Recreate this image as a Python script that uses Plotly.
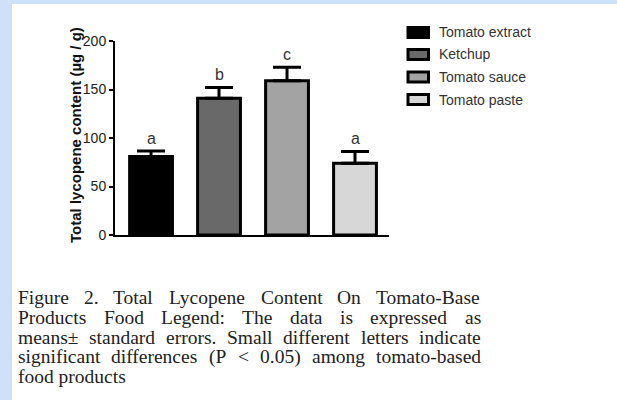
import plotly.graph_objects as go

# ---- data ----
categories = ["Tomato extract", "Ketchup", "Tomato sauce", "Tomato paste"]
means = [81, 141, 159, 74]
errors = [5.5, 11, 14, 12]
letters = ["a", "b", "c", "a"]
colors = ["#000000", "#696969", "#a3a3a3", "#d7d7d7"]
y_ticks = [0, 50, 100, 150, 200]
y_title = "Total lycopene content (µg / g)"
caption_lines = [
    ["Figure", "2.", "Total", "Lycopene", "Content", "On", "Tomato-Base"],
    ["Products", "Food", "Legend:", "The", "data", "is", "expressed", "as"],
    ["means±", "standard", "errors.", "Small", "different", "letters", "indicate"],
    ["significant", "differences", "(P", "<", "0.05)", "among", "tomato-based"],
    ["food products"],
]

# ---- layout geometry (pixels) ----
W, H = 617, 400
ML, MR, MT, MB = 115, 228, 41, 165
PW, PH = W - ML - MR, H - MT - MB


def px(x):
    return (x - ML) / PW


def py(y):
    return (H - MB - y) / PH


SANS = "Liberation Sans, Arial, sans-serif"
SERIF = "Liberation Serif, Times New Roman, serif"

fig = go.Figure()
for i, cat in enumerate(categories):
    fig.add_trace(go.Bar(
        x=[cat], y=[means[i]], name=cat, width=0.63,
        marker=dict(color=colors[i], line=dict(color="black", width=3)),
        error_y=dict(type="data", symmetric=False, array=[errors[i]], arrayminus=[0],
                     color="black", thickness=3, width=14),
        showlegend=False, hoverinfo="skip",
    ))
    # significance letters
    fig.add_annotation(x=cat, y=means[i] + errors[i], text=letters[i], showarrow=False,
                       xanchor="center", yanchor="middle", yshift=13,
                       font=dict(family=SANS, size=16, color="#333"))

# y-axis title
fig.add_annotation(xref="paper", yref="paper", x=px(75), y=py(135), text=y_title,
                   textangle=-90, showarrow=False, xanchor="center", yanchor="middle",
                   font=dict(family=SANS, size=15, color="#111", weight="bold"))

# custom legend
row_y = [32.5, 54.5, 77, 99.5]
shapes = [
    dict(type="rect", xref="paper", yref="paper", x0=px(0), x1=px(W), y0=py(0), y1=py(4),
         fillcolor="#cfe1fa", line=dict(width=0), layer="below"),
    dict(type="rect", xref="paper", yref="paper", x0=px(0), x1=px(12), y0=py(0), y1=py(H),
         fillcolor="#cfe1fa", line=dict(width=0), layer="below"),
]
for i, cat in enumerate(categories):
    shapes.append(dict(type="rect", xref="paper", yref="paper",
                       x0=px(408), x1=px(428.5), y0=py(row_y[i] - 5), y1=py(row_y[i] + 5),
                       fillcolor=colors[i], line=dict(color="black", width=3)))
    fig.add_annotation(xref="paper", yref="paper", x=px(437), y=py(row_y[i]), text=cat,
                       xanchor="left", yanchor="middle", showarrow=False,
                       font=dict(family=SANS, size=14, color="#333"))

# caption: justified text, word positions derived from Times metrics
TW = {' ': 250, 'a': 444, 'b': 500, 'c': 444, 'd': 500, 'e': 444, 'f': 333, 'g': 500, 'h': 500,
      'i': 278, 'j': 278, 'k': 500, 'l': 278, 'm': 778, 'n': 500, 'o': 500, 'p': 500, 'q': 500,
      'r': 333, 's': 389, 't': 278, 'u': 500, 'v': 500, 'w': 722, 'x': 500, 'y': 500, 'z': 444,
      'B': 667, 'C': 667, 'F': 556, 'L': 611, 'O': 722, 'P': 556, 'S': 556, 'T': 611,
      '.': 250, ':': 278, '-': 333, '(': 333, ')': 333, '<': 564, '±': 564}
for d in "0123456789":
    TW[d] = 500
CAP_FS = 19.5
CAP_L, CAP_R = 17, 480
line_y = [297.5, 317.3, 337.1, 356.9, 376.7]


def wwidth(w):
    return sum(TW.get(c, 500) for c in w) / 1000 * CAP_FS


for li, words in enumerate(caption_lines):
    if len(words) > 1:
        gap = (CAP_R - CAP_L - sum(wwidth(w) for w in words)) / (len(words) - 1)
    else:
        gap = 0
    xcur = CAP_L
    for wi, w in enumerate(words):
        fig.add_annotation(xref="paper", yref="paper", x=px(xcur), y=py(line_y[li]), text=w,
                           xanchor="left", yanchor="middle", showarrow=False, borderpad=0,
                           font=dict(family=SERIF, size=CAP_FS, color="#222"))
        xcur += wwidth(w) + gap

fig.update_layout(
    width=W, height=H, margin=dict(l=ML, r=MR, t=MT, b=MB, pad=0),
    paper_bgcolor="white", plot_bgcolor="white", barmode="overlay",
    shapes=shapes, showlegend=False,
    xaxis=dict(type="category", range=[-0.53, 3.5], showline=True, linecolor="black", linewidth=2,
               showticklabels=False, ticks="", showgrid=False, zeroline=False, fixedrange=True),
    yaxis=dict(range=[0, 200], tickvals=y_ticks, showline=True, linecolor="black", linewidth=2,
               ticks="outside", ticklen=4, tickwidth=2, tickcolor="black", showgrid=False, zeroline=False,
               tickfont=dict(family=SANS, size=14, color="#222"), fixedrange=True),
)

fig.write_html("out.html", config={"displayModeBar": False},
               post_script="document.body.style.margin='0px';")
